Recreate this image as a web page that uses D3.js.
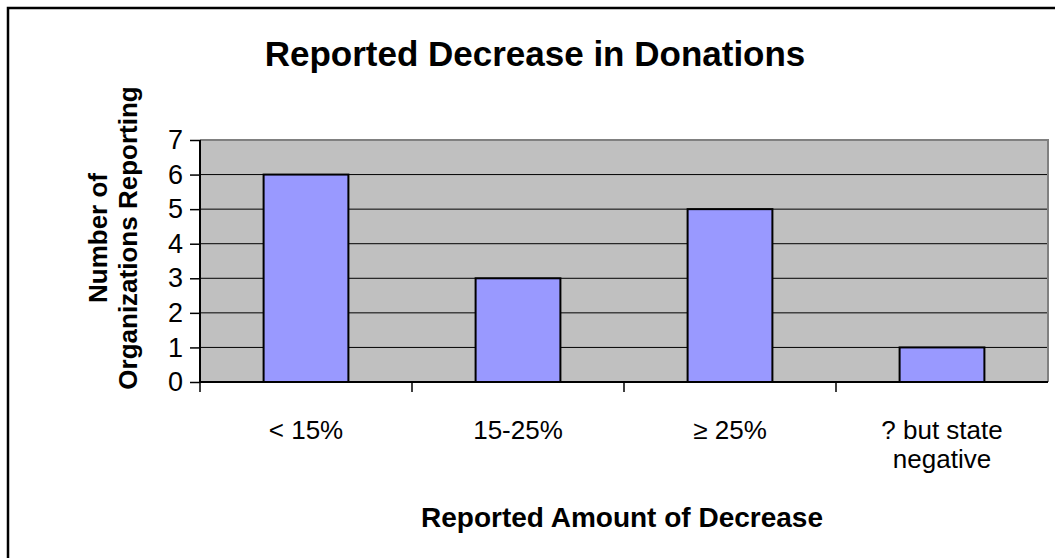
<!DOCTYPE html>
<html>
<head>
<meta charset="utf-8">
<script src="https://cdn.jsdelivr.net/npm/d3@7"></script>
<style>
  body { margin: 0; background: #fff; }
  svg { font-family: Arial, "Liberation Sans", sans-serif; }
</style>
</head>
<body>
<div id="chart"></div>
<script>
const categories = [['< 15%'], ['15-25%'], ['\u2265 25%'], ['? but state', 'negative']];
const counts = [6, 3, 5, 1];
const yTicks = [0, 1, 2, 3, 4, 5, 6, 7];

const width = 1055, height = 558;
const plot = { left: 200, right: 1048, top: 140, bottom: 382 };

const svg = d3.select('#chart')
    .append('svg')
    .attr('width', width)
    .attr('height', height);

// outer chart border, runs off the bottom/right edge
svg.append('rect')
    .attr('x', 8).attr('y', 8)
    .attr('width', 1070).attr('height', 570)
    .attr('fill', '#fff')
    .attr('stroke', '#000')
    .attr('stroke-width', 2.5);

const x = d3.scaleBand()
    .domain(d3.range(categories.length))
    .range([plot.left, plot.right])
    .paddingInner(0.6)
    .paddingOuter(0.3);

const y = d3.scaleLinear()
    .domain([0, 7])
    .range([plot.bottom, plot.top]);

// plot background
svg.append('rect')
    .attr('x', plot.left).attr('y', plot.top)
    .attr('width', plot.right - plot.left)
    .attr('height', plot.bottom - plot.top)
    .attr('fill', '#c0c0c0');

// gridlines
svg.selectAll('line.grid')
    .data(yTicks.filter(d => d > 0 && d < 7))
    .join('line')
    .classed('grid', true)
    .attr('x1', plot.left).attr('x2', plot.right)
    .attr('y1', d => y(d)).attr('y2', d => y(d))
    .attr('stroke', '#000')
    .attr('stroke-width', 1);

// grey top and right frame
svg.append('path')
    .attr('d', `M${plot.left},${plot.top}H${plot.right}V${plot.bottom}`)
    .attr('fill', 'none')
    .attr('stroke', '#808080')
    .attr('stroke-width', 2);

// bars
svg.selectAll('rect.bar')
    .data(counts)
    .join('rect')
    .classed('bar', true)
    .attr('x', (d, i) => x(i))
    .attr('width', x.bandwidth())
    .attr('y', d => y(d))
    .attr('height', d => y(0) - y(d))
    .attr('fill', '#9999ff')
    .attr('stroke', '#000')
    .attr('stroke-width', 2);

// y axis
const yAxis = svg.append('g')
    .attr('transform', `translate(${plot.left},0)`)
    .call(d3.axisLeft(y).tickValues(yTicks).tickFormat(d3.format('d')).tickSize(10).tickPadding(7));
yAxis.select('.domain').attr('stroke-width', 2).attr('d', `M0,${plot.top}V${plot.bottom}`);
yAxis.selectAll('.tick line').attr('stroke-width', 1.5);
yAxis.selectAll('.tick text')
    .attr('font-size', 27)
    .attr('font-family', 'Arial, "Liberation Sans", sans-serif')
    .attr('fill', '#000');

// x axis: ticks at category boundaries
const step = (plot.right - plot.left) / categories.length;
const bounds = d3.range(categories.length + 1).map(i => plot.left + i * step);
svg.append('line')
    .attr('x1', plot.left).attr('x2', plot.right)
    .attr('y1', plot.bottom).attr('y2', plot.bottom)
    .attr('stroke', '#000').attr('stroke-width', 2);
svg.selectAll('line.xtick')
    .data(bounds.slice(0, -1))
    .join('line')
    .classed('xtick', true)
    .attr('x1', d => d).attr('x2', d => d)
    .attr('y1', plot.bottom).attr('y2', plot.bottom + 10)
    .attr('stroke', '#000').attr('stroke-width', 1.5);

// category labels
svg.selectAll('text.cat')
    .data(categories)
    .join('text')
    .classed('cat', true)
    .attr('text-anchor', 'middle')
    .attr('font-size', 26)
    .attr('x', (d, i) => x(i) + x.bandwidth() / 2)
    .attr('y', 439)
    .selectAll('tspan')
    .data(d => d)
    .join('tspan')
    .attr('x', function () { return this.parentNode.getAttribute('x'); })
    .attr('dy', (d, i) => i === 0 ? 0 : 29)
    .text(d => d);

// title
svg.append('text')
    .attr('x', 535).attr('y', 66)
    .attr('text-anchor', 'middle')
    .attr('font-size', 35)
    .attr('font-weight', 'bold')
    .text('Reported Decrease in Donations');

// x axis title
svg.append('text')
    .attr('x', 622).attr('y', 527)
    .attr('text-anchor', 'middle')
    .attr('font-size', 28)
    .attr('font-weight', 'bold')
    .text('Reported Amount of Decrease');

// y axis title, two lines rotated
const yTitle = svg.append('text')
    .attr('transform', `translate(107,238) rotate(-90)`)
    .attr('text-anchor', 'middle')
    .attr('font-size', 26)
    .attr('font-weight', 'bold');
yTitle.append('tspan').attr('x', 0).attr('dy', 0).text('Number of');
yTitle.append('tspan').attr('x', 0).attr('dy', 30).text('Organizations Reporting');
</script>
</body>
</html>
